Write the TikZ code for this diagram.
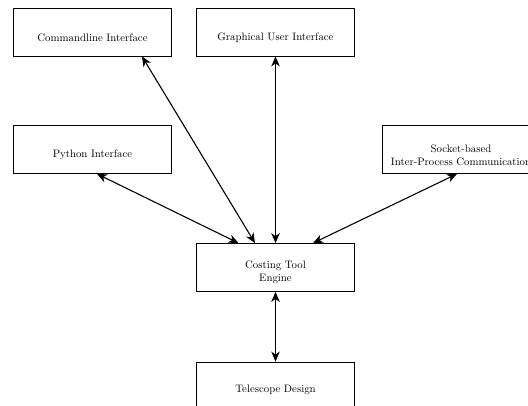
\documentclass[tikz,border=0pt]{standalone}
\usetikzlibrary{arrows.meta}
\begin{document}
\begin{tikzpicture}[x=1pt,y=-1pt,
  box/.style={draw, line width=0.8pt, minimum width=158pt, minimum height=48pt, inner sep=0pt},
  lbl/.style={font=\fontsize{10.8}{13}\selectfont, align=center, inner sep=0pt},
  tip/.tip={Stealth[length=10pt,width=8.5pt,inset=3pt]},
  link/.style={tip-tip, line width=1.1pt}]
\useasboundingbox (0,0) rectangle (528,406);
\node[box] (cmd) at (92.5,32) {};
\node[lbl] (cmdt) at ([yshift=-6pt]cmd.center) {Commandline Interface};
\node[box] (gui) at (275.5,32) {};
\node[lbl] (guit) at ([yshift=-6pt]gui.center) {Graphical User Interface};
\node[box] (py) at (92.5,149.5) {};
\node[lbl] (pyt) at ([yshift=-5pt]py.center) {Python Interface};
\node[box] (sock) at (461,149.5) {};
\node[lbl] (sockt) at ([yshift=-6pt]sock.center) {Socket-based\\Inter-Process Communication};
\node[box] (cost) at (275.5,267.5) {};
\node[lbl] (costt) at ([yshift=-5pt]cost.center) {Costing Tool\\Engine};
\node[box] (tel) at (275.5,386) {};
\node[lbl] (telt) at ([yshift=-4pt]tel.center) {Telescope Design};
\draw[link] ([xshift=49.5pt]cmd.south) -- ([xshift=-20.5pt]cost.north);
\draw[link] (gui.south) -- (cost.north);
\draw[link] ([xshift=4.5pt]py.south) -- ([xshift=-37pt]cost.north);
\draw[link] ([xshift=-4pt]sock.south) -- ([xshift=37.5pt]cost.north);
\draw[link] (cost.south) -- (tel.north);
\end{tikzpicture}
\end{document}
